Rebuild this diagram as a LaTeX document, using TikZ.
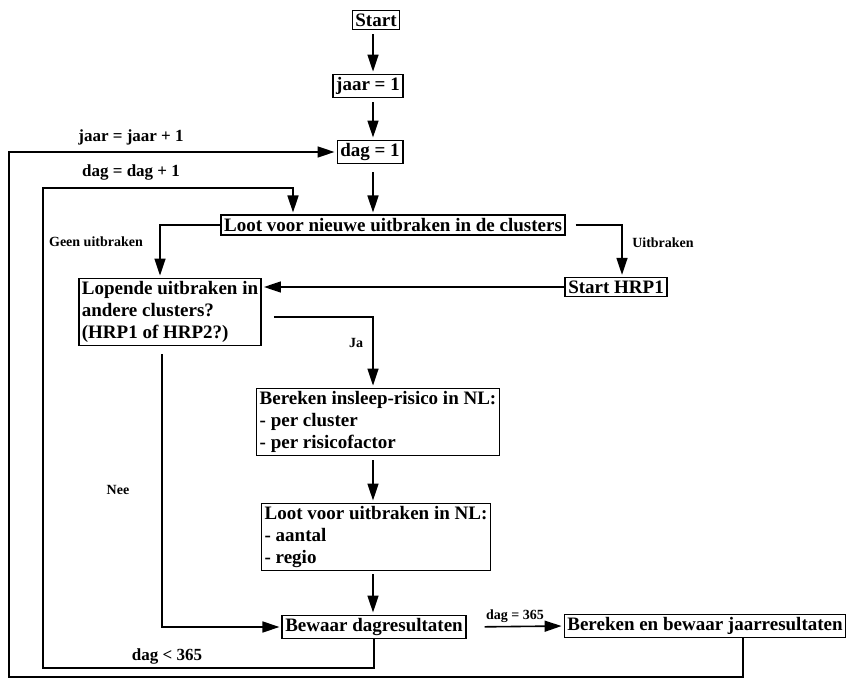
\documentclass[tikz,border=0pt]{standalone}
\usepackage{fontspec}
\setmainfont{Liberation Serif}
\usetikzlibrary{arrows.meta}

\tikzset{
	blok/.style={shape=rectangle, draw=black, line width=1.6pt, inner sep=3pt, font=\bfseries\fontsize{19}{22}\selectfont, align=left},
	lijn/.style={line width=1.6pt, -{Triangle[length=17pt,width=11pt]}, shorten >=2pt},
	tekst/.style={font=\bfseries\fontsize{17}{19}\selectfont},
	klein/.style={font=\bfseries\fontsize{14}{16}\selectfont},
}

\begin{document}
\begin{tikzpicture}[x=1pt,y=-1pt]
	\useasboundingbox (0,0) rectangle (856,679);
	
	\node[blok] (start)    at (376,20)  {Start};
	\node[blok] (jaar)     at (368,86)  {jaar = 1};
	\node[blok] (dag)      at (370,152) {dag = 1};
	\node[blok] (lootcl)   at (393,225) {Loot voor nieuwe uitbraken in de clusters};
	\node[blok] (starthrp) at (616,287) {Start HRP1};
	\node[blok] (lopende)  at (170,312) {Lopende uitbraken in\\andere clusters?\\(HRP1 of HRP2?)};
	\node[blok] (insleep)  at (378,422) {Bereken insleep-risico in NL:\\- per cluster\\- per risicofactor};
	\node[blok] (lootnl)   at (376,537) {Loot voor uitbraken in NL:\\- aantal\\- regio};
	\node[blok] (bewaar)   at (374,627) {Bewaar dagresultaten};
	\node[blok] (jaarres)  at (705,626) {Bereken en bewaar jaarresultaten};
	
	\node[tekst] (ljaar)  at (131,137) {jaar = jaar + 1};
	\node[tekst] (ldag)   at (131,172) {dag = dag + 1};
	\node[tekst] (ldagkl) at (167,656) {dag < 365};
	\node[klein] (lgeen)  at (96,242)  {Geen uitbraken};
	\node[klein] (luit)   at (663,243) {Uitbraken};
	\node[klein] (lja)    at (356,343) {Ja};
	\node[klein] (lnee)   at (118,490) {Nee};
	
	\coordinate (dl1) at (43,668);
	\coordinate (dl2) at (43,188);
	\coordinate (dl3) at (293,188);
	\coordinate (jl1) at (9,677);
	
	\draw[lijn, shorten <=4pt] (start.south -| 373,0) -- (jaar.north -| 373,0);
	\draw[lijn, shorten <=4pt] (jaar.south -| 373,0) -- (dag.north -| 373,0);
	\draw[lijn, shorten <=8pt] (dag.south -| 373,0) -- (lootcl.north -| 373,0);
	\draw[lijn] (lootcl.west) -| ([xshift=-10pt]lopende.north);
	\draw[lijn, shorten <=10pt] (lootcl.east) -| ([xshift=6pt]starthrp.north);
	\draw[lijn] (starthrp.west) -- (starthrp.west -| lopende.east);
	\draw[lijn, shorten <=12pt] ([yshift=-5pt]lopende.east) -| (insleep.north -| 373,0);
	\draw[lijn, shorten <=4pt] (insleep.south -| 373,0) -- (lootnl.north -| 373,0);
	\draw[lijn, shorten <=3pt] (lootnl.south -| 373,0) -- (bewaar.north -| 373,0);
	\draw[lijn, shorten <=8pt] ([xshift=-8pt]lopende.south) |- (bewaar.west);
	\draw[lijn, shorten <=18pt] (bewaar.east) -- (jaarres.west) node[midway, above, klein] {dag = 365};
	\draw[lijn] (bewaar.south) |- (dl1) -- (dl2) -- (dl3) -- (dl3 |- lootcl.north);
	\draw[lijn] ([xshift=38pt]jaarres.south) |- (jl1) |- (dag.west);
	
\end{tikzpicture}
\end{document}
